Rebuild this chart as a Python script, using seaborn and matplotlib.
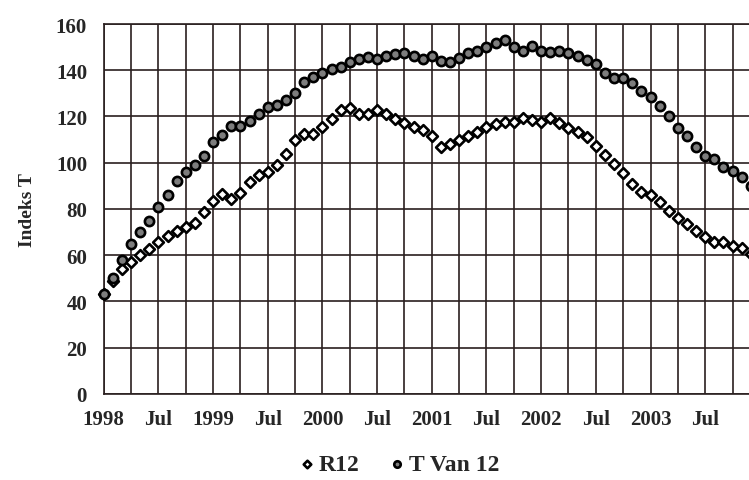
import matplotlib
matplotlib.use("Agg")
import matplotlib.pyplot as plt
import numpy as np
import pandas as pd
import seaborn as sns

# monthly index values, Jan 1998 .. Dec 2003
r12 = [43, 49, 54, 57, 60, 62.7, 65.7, 68.5, 70.5, 72, 74, 78.7,
       83.5, 86.5, 84.3, 87, 91.7, 94.7, 96, 99, 103.8, 110, 112.4, 112.4,
       115.5, 119, 123, 123.7, 121, 121, 123, 121, 119, 117, 115.5, 114,
       111.5, 107, 108, 110, 111.6, 113.3, 115.5, 116.8, 117.6, 117.6, 119.3, 118.5,
       117.6, 119.3, 117, 115, 113.3, 111, 107.2, 103.4, 99.5, 95.6, 90.8, 87.4,
       86, 83, 79, 76, 73.5, 70.5, 68, 65.7, 65.7, 64, 63, 60.5]
t_van_12 = [43, 50, 58, 65, 70, 75, 81, 86, 92, 96, 99, 103,
            109, 112, 116, 116, 118, 121, 124, 125, 127, 130, 135, 137,
            139, 140.5, 141.5, 143.5, 145, 145.7, 145, 146, 147, 147.5, 146, 145,
            146, 144, 143.6, 145.3, 147.5, 148.3, 150, 151.8, 153, 150, 148.3, 150.5,
            148.3, 147.7, 148.4, 147.5, 146.3, 144.6, 142.7, 139, 136.5, 136.5, 134.5, 131,
            128.3, 124.5, 120, 115, 111.6, 107, 103, 101.6, 98, 96.4, 94, 90]
years = [1998, 1999, 2000, 2001, 2002, 2003]

months = np.arange(len(r12))
df_r = pd.DataFrame({"month": months, "value": r12})
df_t = pd.DataFrame({"month": months, "value": t_van_12})

sns.set_style("white")
plt.rcParams["font.family"] = ["Liberation Serif", "DejaVu Serif"]
plt.rcParams["font.weight"] = "bold"

grid_col = "#2a1f1f"
fig = plt.figure(figsize=(7.49, 4.81), dpi=100)
# axes run past the right edge, as in the cropped scan
ax = fig.add_axes([0.1385, 0.179, 0.876, 0.769])

sns.scatterplot(data=df_r, x="month", y="value", marker="D", color="white",
                edgecolor="black", linewidth=1.9, s=30, ax=ax, clip_on=False,
                zorder=3, label="R12")
sns.scatterplot(data=df_t, x="month", y="value", marker="o", color="#7d7d7d",
                edgecolor="black", linewidth=1.9, s=44, ax=ax, clip_on=False,
                zorder=4, label="T Van 12")

ax.set_xlim(0, 72)
ax.set_ylim(0, 160)
ax.set_yticks(np.arange(0, 161, 20))
ax.set_xticks(np.arange(0, 72, 3))
xlabels = []
for m in range(0, 72, 3):
    if m % 12 == 0:
        xlabels.append(str(years[m // 12]))
    elif m % 12 == 6:
        xlabels.append("Jul")
    else:
        xlabels.append("")
ax.set_xticklabels(xlabels)

ax.grid(True, color=grid_col, linewidth=1.2)
ax.set_axisbelow(True)
for side in ["left", "bottom", "top"]:
    ax.spines[side].set_color(grid_col)
    ax.spines[side].set_linewidth(1.2)
ax.spines["right"].set_visible(False)
ax.tick_params(axis="both", direction="out", color=grid_col, width=1.2,
               labelsize=15)
ax.tick_params(axis="y", length=6, pad=6)
ax.tick_params(axis="x", length=5, pad=6)
for lbl in ax.get_xticklabels() + ax.get_yticklabels():
    lbl.set_fontweight("bold")

ax.set_xlabel("")
ax.set_ylabel("Indeks T", fontsize=14, fontweight="bold", labelpad=14)

sns.move_legend(ax, "center", bbox_to_anchor=(0.522, 0.033),
                bbox_transform=fig.transFigure, ncol=2, frameon=False,
                title=None, fontsize=17, handletextpad=-0.5, columnspacing=0.6,
                markerscale=0.7)
for txt in ax.get_legend().get_texts():
    txt.set_fontweight("bold")

fig.savefig("out.png", dpi=100)
